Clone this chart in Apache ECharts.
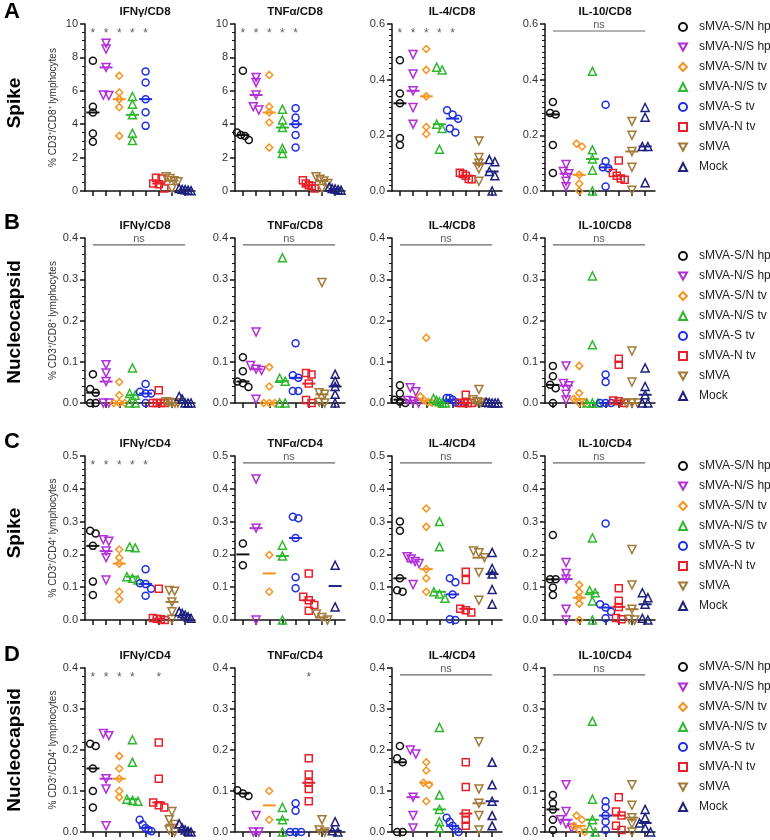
<!DOCTYPE html>
<html>
<head>
<meta charset="utf-8">
<script src="https://cdn.jsdelivr.net/npm/echarts@6/dist/echarts.min.js"></script>
<style>
  html, body { margin: 0; background: #fff; }
  #chart { width: 770px; height: 840px; }
</style>
</head>
<body>
<div id="chart"></div>
<script>
// groups (x categories, legend)
const groups = ['sMVA-S/N hp', 'sMVA-N/S hp', 'sMVA-S/N tv', 'sMVA-N/S tv', 'sMVA-S tv', 'sMVA-N tv', 'sMVA', 'Mock'];
const groupTicks = [0, 1, 2, 3, 4, 5, 6, 7];

// panel titles per row
const rowTitles = [
  ['IFNγ/CD8', 'TNFα/CD8', 'IL-4/CD8', 'IL-10/CD8'],
  ['IFNγ/CD8', 'TNFα/CD8', 'IL-4/CD8', 'IL-10/CD8'],
  ['IFNγ/CD4', 'TNFα/CD4', 'IL-4/CD4', 'IL-10/CD4'],
  ['IFNγ/CD4', 'TNFα/CD4', 'IL-4/CD4', 'IL-10/CD4']
];
const rowLetters = ['A', 'B', 'C', 'D'];
const rowLabels = ['Spike', 'Nucleocapsid', 'Spike', 'Nucleocapsid'];
const yNames = ['% CD3⁺/CD8⁺ lymphocytes', '% CD3⁺/CD8⁺ lymphocytes', '% CD3⁺/CD4⁺ lymphocytes', '% CD3⁺/CD4⁺ lymphocytes'];

// y axis ranges
const yMax = [[10, 10, 0.6, 0.6], [0.4, 0.4, 0.4, 0.4], [0.5, 0.5, 0.5, 0.5], [0.4, 0.4, 0.4, 0.4]];
const yStep = [[2, 2, 0.2, 0.2], [0.1, 0.1, 0.1, 0.1], [0.1, 0.1, 0.1, 0.1], [0.1, 0.1, 0.1, 0.1]];

// significance: list of starred groups, or null for "ns"
const stars = [
  [[0, 1, 2, 3, 4], [0, 1, 2, 3, 4], [0, 1, 2, 3, 4], null],
  [null, null, null, null],
  [[0, 1, 2, 3, 4], null, null, null],
  [[0, 1, 2, 3, 5], [5], null, null]
];

// values: one list per group (order = groups)
const spikeCD8IFNg = [[7.8, 5.05, 4.7, 3.45, 2.95], [8.85, 8.5, 7.4, 5.75, 5.72], [6.9, 5.9, 5.5, 5.02, 3.3], [5.66, 5.2, 4.56, 3.46, 3.02], [7.16, 6.5, 5.5, 4.72, 3.9], [0.8, 0.75, 0.45, 0.4, 0.15], [0.85, 0.75, 0.62, 0.55, 0.15], [0.15, 0.1, 0.08, 0.05, 0.02]];
const spikeCD8TNFa = [[7.2, 3.5, 3.35, 3.3, 3.05], [6.8, 6.5, 5.75, 5.05, 4.85], [6.95, 5.05, 4.7, 4.1, 2.6], [4.9, 4.25, 3.8, 2.55, 2.25], [4.95, 4.4, 4.0, 3.35, 2.6], [0.65, 0.45, 0.35, 0.3, 0.15], [0.85, 0.7, 0.6, 0.45, 0.15], [0.25, 0.15, 0.12, 0.08, 0.05]];
const spikeCD8IL4 = [[0.47, 0.35, 0.315, 0.19, 0.165], [0.49, 0.42, 0.36, 0.30, 0.24], [0.51, 0.435, 0.34, 0.23, 0.205], [0.445, 0.435, 0.24, 0.225, 0.15], [0.29, 0.275, 0.26, 0.225, 0.21], [0.066, 0.061, 0.055, 0.043, 0.042], [0.18, 0.12, 0.1, 0.08, 0.035], [0.113, 0.105, 0.07, 0.055, 0]];
const spikeCD8IL10 = [[0.32, 0.28, 0.275, 0.165, 0.065], [0.095, 0.07, 0.062, 0.035, 0.015], [0.17, 0.16, 0.058, 0.026, 0], [0.43, 0.148, 0.115, 0.075, 0], [0.31, 0.107, 0.085, 0.082, 0.016], [0.11, 0.065, 0.055, 0.045, 0.04], [0.25, 0.2, 0.142, 0.085, 0.003], [0.30, 0.265, 0.16, 0.16, 0.03]];

const nucCD8IFNg = [[0.07, 0.034, 0.025, 0, 0], [0.093, 0.073, 0.052, 0, 0], [0.051, 0.019, 0, 0, 0], [0.085, 0.023, 0.019, 0, 0], [0.046, 0.027, 0.023, 0.023, 0], [0.031, 0, 0, 0, 0], [0.003, 0.002, 0, 0, 0], [0.016, 0.01, 0, 0, 0]];
const nucCD8TNFa = [[0.111, 0.077, 0.052, 0.048, 0.039], [0.172, 0.091, 0.082, 0.079, 0.009], [0.087, 0.04, 0, 0, 0], [0.352, 0.06, 0.053, 0, 0], [0.145, 0.067, 0.061, 0.029, 0.029], [0.073, 0.069, 0.047, 0.007, 0], [0.292, 0.025, 0.021, 0.002, 0], [0.07, 0.053, 0.04, 0.021, 0]];
const nucCD8IL4 = [[0.043, 0.023, 0.008, 0.003, 0], [0.037, 0.027, 0.006, 0.004, 0], [0.158, 0.016, 0.006, 0.002, 0], [0.011, 0.006, 0.003, 0, 0], [0.012, 0.012, 0.008, 0.001, 0], [0.02, 0, 0, 0, 0], [0.033, 0.008, 0.003, 0.001, 0], [0.002, 0.001, 0, 0, 0]];
const nucCD8IL10 = [[0.09, 0.065, 0.044, 0.036, 0], [0.09, 0.047, 0.042, 0.021, 0.007], [0.09, 0.024, 0.01, 0, 0], [0.308, 0.141, 0, 0, 0], [0.069, 0.051, 0, 0, 0], [0.107, 0.093, 0.006, 0.004, 0], [0.126, 0.051, 0, 0, 0], [0.085, 0.04, 0.02, 0, 0]];

const spikeCD4IFNg = [[0.272, 0.264, 0.226, 0.117, 0.076], [0.245, 0.24, 0.21, 0.19, 0.122], [0.215, 0.19, 0.172, 0.086, 0.063], [0.223, 0.22, 0.132, 0.127, 0.122], [0.155, 0.112, 0.11, 0.095, 0.074], [0.095, 0.006, 0.004, 0.002, 0], [0.09, 0.088, 0.055, 0.025, 0.002], [0.025, 0.02, 0.015, 0.01, 0.005]];
const spikeCD4TNFa = [[0.233, 0.167], [0.43, 0.28, 0], [0.198, 0.086], [0.228, 0.195, 0], [0.315, 0.31, 0.25, 0.13, 0.097], [0.142, 0.071, 0.06, 0.046, 0.028], [0.018, 0.008, 0], [0.167, 0.04]];
const spikeCD4IL4 = [[0.3, 0.272, 0.127, 0.091, 0.086], [0.193, 0.186, 0.178, 0.172, 0.108], [0.34, 0.284, 0.155, 0.127, 0.086], [0.3, 0.223, 0.086, 0.079, 0.066], [0.127, 0.115, 0.078, 0.002, 0], [0.147, 0.122, 0.034, 0.03, 0.023], [0.21, 0.205, 0.19, 0.145, 0.06], [0.206, 0.157, 0.14, 0.093, 0.048]];
const spikeCD4IL10 = [[0.259, 0.124, 0.124, 0.099, 0.076], [0.175, 0.142, 0.125, 0.033, 0], [0.107, 0.085, 0.068, 0.05, 0], [0.25, 0.09, 0.083, 0.058, 0], [0.294, 0.048, 0.038, 0.025, 0.005], [0.097, 0.059, 0.04, 0.006, 0.002], [0.215, 0.107, 0.033, 0.002, 0], [0.083, 0.068, 0.048, 0.005, 0]];

const nucCD4IFNg = [[0.215, 0.21, 0.155, 0.1, 0.06], [0.24, 0.235, 0.13, 0.105, 0.015], [0.185, 0.155, 0.13, 0.1, 0.085], [0.225, 0.17, 0.08, 0.077, 0.075], [0.03, 0.018, 0.01, 0.005, 0.002], [0.218, 0.13, 0.072, 0.065, 0.06], [0.05, 0.03, 0.018, 0.005, 0], [0.02, 0.01, 0.005, 0.002, 0]];
const nucCD4TNFa = [[0.102, 0.094, 0.088], [0.04, 0, 0], [0.1, 0.03], [0.06, 0.03, 0], [0.07, 0.052, 0, 0, 0], [0.18, 0.14, 0.12, 0.105, 0.075], [0.03, 0.005, 0], [0.025, 0.003, 0]];
const nucCD4IL4 = [[0.21, 0.18, 0.17, 0, 0], [0.2, 0.19, 0.085, 0.04, 0.01], [0.17, 0.15, 0.12, 0.115, 0.075], [0.255, 0.09, 0.055, 0.025, 0.01], [0.035, 0.025, 0.015, 0.007, 0], [0.17, 0.11, 0.045, 0.03, 0.015], [0.22, 0.105, 0.07, 0.04, 0.005], [0.17, 0.115, 0.075, 0.04, 0.015]];
const nucCD4IL10 = [[0.09, 0.07, 0.055, 0.03, 0.005], [0.115, 0.05, 0.03, 0.02, 0.01], [0.04, 0.03, 0.015, 0.005, 0], [0.27, 0.08, 0.03, 0.01, 0], [0.075, 0.06, 0.04, 0.025, 0.005], [0.085, 0.05, 0.04, 0.015, 0.005], [0.115, 0.065, 0.035, 0.02, 0], [0.055, 0.035, 0.022, 0.01, 0]];

const panels = [
  [spikeCD8IFNg, spikeCD8TNFa, spikeCD8IL4, spikeCD8IL10],
  [nucCD8IFNg, nucCD8TNFa, nucCD8IL4, nucCD8IL10],
  [spikeCD4IFNg, spikeCD4TNFa, spikeCD4IL4, spikeCD4IL10],
  [nucCD4IFNg, nucCD4TNFa, nucCD4IL4, nucCD4IL10]
];

// look
const FONT = '"Liberation Sans", Arial, sans-serif';
const invTri = 'path://M0,0L10,0L5,9Z';
const colors = ['#111111', '#b22fd8', '#f7931e', '#2fb82f', '#1f2ee0', '#e8202a', '#a27a38', '#1d207c'];
const symbols = ['circle', invTri, 'diamond', 'triangle', 'circle', 'rect', invTri, 'triangle'];
const sizes = [7, 8, 7, 8, 7, 7, 8, 8];
const colLeft = [85, 235, 392, 545];
const plotW = 110;
const rowTop = [24, 238, 456, 668];
const rowBottom = [191, 403, 620, 832];

function median(a) {
  const s = a.slice().sort((x, y) => x - y);
  const m = Math.floor(s.length / 2);
  return s.length % 2 ? s[m] : (s[m - 1] + s[m]) / 2;
}

// side-by-side placement of points that would overlap (like a scatter dot plot)
function spread(vals, pxPerUnit) {
  const idx = vals.map((v, i) => i).sort((a, b) => vals[b] - vals[a]);
  const off = vals.map(() => 0);
  let cl = [idx[0]];
  const flush = () => {
    const n = cl.length;
    const step = n > 1 ? Math.min(0.42, 0.9 / (n - 1)) : 0;
    cl.forEach((k, j) => { off[k] = (j - (n - 1) / 2) * step; });
  };
  for (let j = 1; j < idx.length; j++) {
    if ((vals[idx[j - 1]] - vals[idx[j]]) * pxPerUnit < 5) cl.push(idx[j]);
    else { flush(); cl = [idx[j]]; }
  }
  flush();
  return off;
}

const grid = [], xAxis = [], yAxis = [], series = [], title = [], legend = [], graphic = [];

for (let r = 0; r < 4; r++) {
  graphic.push({ type: 'text', x: 12, y: [12, 223, 442, 655][r],
    style: { text: rowLetters[r], font: 'bold 22px ' + FONT, fill: '#000', align: 'center', verticalAlign: 'middle' } });
  graphic.push({ type: 'text', x: 15, y: [103, 322, 533, 750][r], rotation: Math.PI / 2,
    style: { text: rowLabels[r], font: 'bold 19px ' + FONT, fill: '#000', align: 'center', verticalAlign: 'middle' } });
  legend.push({
    data: groups, orient: 'vertical', left: 673, top: [15, 244, 454, 655][r],
    itemWidth: 8, itemHeight: 8, itemGap: 6,
    textStyle: { fontSize: 12, lineHeight: 14, color: '#222', fontFamily: FONT, padding: [0, 0, 0, 7] }
  });

  for (let c = 0; c < 4; c++) {
    const k = r * 4 + c;
    const h = rowBottom[r] - rowTop[r];
    const max = yMax[r][c], step = yStep[r][c];
    const ppu = h / max;
    grid.push({ left: colLeft[c], top: rowTop[r], width: plotW, height: h });
    xAxis.push({
      type: 'value', gridIndex: k, min: -0.6, max: 7.75,
      axisLine: { show: true, onZero: false, lineStyle: { color: '#111', width: 1.5 } },
      axisTick: { show: true, customValues: groupTicks, length: 5, lineStyle: { color: '#111', width: 1.5 } },
      axisLabel: { show: false }, splitLine: { show: false }
    });
    yAxis.push({
      type: 'value', gridIndex: k, min: 0, max: max, interval: step,
      axisLine: { show: true, onZero: false, lineStyle: { color: '#111', width: 1.5 } },
      axisTick: { show: true, length: 5, lineStyle: { color: '#111', width: 1.5 } },
      minorTick: { show: true, splitNumber: step >= 1 ? 4 : (step > 0.15 ? 10 : 5), length: 3, lineStyle: { color: '#111', width: 1 } },
      axisLabel: { fontSize: 11, color: '#333', margin: 7, fontFamily: FONT,
        formatter: v => step >= 1 ? String(v) : v.toFixed(1) },
      splitLine: { show: false },
      name: c === 0 ? yNames[r] : '', nameLocation: 'middle', nameGap: 27,
      nameTextStyle: { fontSize: 10, color: '#333', fontFamily: FONT }
    });
    title.push({
      text: rowTitles[r][c], left: colLeft[c] + plotW / 2, top: rowTop[r] - 23, textAlign: 'center',
      textStyle: { fontSize: 11.5, fontWeight: 'bold', color: '#111', fontFamily: FONT }
    });

    const data = panels[r][c];
    data.forEach((vals, g) => {
      const off = spread(vals, ppu);
      const pts = vals.map((v, i) => [g + off[i], v]);
      pts.push({ value: [g, median(vals)], symbol: 'rect', symbolSize: [13, 2],
        itemStyle: { color: colors[g], borderWidth: 0 } });
      series.push({
        type: 'scatter', name: groups[g], xAxisIndex: k, yAxisIndex: k, clip: false,
        symbol: symbols[g], symbolSize: sizes[g], data: pts,
        itemStyle: { color: 'rgba(255,255,255,0)', borderColor: colors[g], borderWidth: 1.5, opacity: 1 },
        emphasis: { disabled: true }
      });
    });

    const ly = max * 0.958;
    const st = stars[r][c];
    if (st) {
      series.push({
        type: 'scatter', name: 'sig', xAxisIndex: k, yAxisIndex: k, symbolSize: 1, silent: true, clip: false,
        itemStyle: { color: 'rgba(255,255,255,0)' },
        data: st.map(g => [g, ly]),
        label: { show: true, formatter: '*', position: 'inside', offset: [0, 3], fontSize: 12, color: '#333', fontFamily: FONT }
      });
    } else {
      series.push({
        type: 'line', name: 'ns', xAxisIndex: k, yAxisIndex: k, symbol: 'none', silent: true,
        data: [[0, ly], [7, ly]], lineStyle: { color: '#666', width: 1.2 }
      });
      series.push({
        type: 'scatter', name: 'ns', xAxisIndex: k, yAxisIndex: k, symbolSize: 1, silent: true, clip: false,
        itemStyle: { color: 'rgba(255,255,255,0)' },
        data: [[3.5, ly]],
        label: { show: true, formatter: 'ns', position: 'top', distance: 0, fontSize: 11, color: '#333', fontFamily: FONT }
      });
    }
  }
}

const chart = echarts.init(document.getElementById('chart'));
chart.setOption({
  backgroundColor: '#fff',
  animation: false,
  textStyle: { fontFamily: FONT },
  title, legend, grid, xAxis, yAxis, series, graphic
});
</script>
</body>
</html>
